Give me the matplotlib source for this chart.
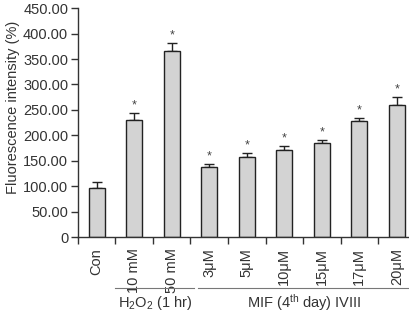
import numpy as np
import matplotlib
matplotlib.use("Agg")
import matplotlib.pyplot as plt

plt.rcParams['font.family'] = ['Liberation Sans', 'DejaVu Sans']
plt.rcParams['mathtext.fontset'] = 'custom'
plt.rcParams['mathtext.rm'] = 'Liberation Sans'
plt.rcParams['mathtext.default'] = 'regular'

# data
categories = ['Con', '10 mM', '50 mM', '3μM', '5μM', '10μM', '15μM', '17μM', '20μM']
values = [97, 230, 365, 137, 157, 171, 184, 228, 260]
errors = [11, 13, 17, 6, 9, 9, 6, 7, 16]
significant = [False, True, True, True, True, True, True, True, True]
yticks = [0, 50, 100, 150, 200, 250, 300, 350, 400, 450]
groups = [('H$_2$O$_2$ (1 hr)', 1, 2), ('MIF (4$^{th}$ day) IVIII', 3, 8)]

fig = plt.figure(figsize=(4.10, 3.12), dpi=100)
ax = fig.add_axes([0.19, 0.24, 0.81, 0.734])

x = np.arange(len(categories))
ax.bar(x, values, width=0.42, color='#d3d3d3', edgecolor='#222222', linewidth=1.0, zorder=2)
ax.errorbar(x, values, yerr=[np.zeros(len(errors)), errors], fmt='none',
            ecolor='#222222', elinewidth=1.0, capsize=3.5, capthick=1.0, zorder=1)
for xi, v, e, s in zip(x, values, errors, significant):
    if s:
        ax.text(xi, v + e + 3, '*', ha='center', va='bottom', fontsize=9, color='#444444')

ax.set_xlim(-0.5, 8.35)
ax.set_ylim(0, 450)
ax.set_yticks(yticks)
ax.set_yticklabels(['0'] + ['%.2f' % t for t in yticks[1:]], fontsize=10.5, color='#333333')
ax.set_xticks(np.arange(-0.5, 8.5, 1.0))
ax.set_xticklabels([])
ax.set_xticks(x, minor=True)
ax.set_xticklabels(categories, minor=True, rotation=90, fontsize=10.5, color='#333333')
ax.tick_params(axis='x', which='minor', length=0, pad=8)
ax.tick_params(axis='both', which='major', length=5, width=1.0, color='#333333')
ax.tick_params(axis='y', pad=2)
for side in ['top', 'right']:
    ax.spines[side].set_visible(False)
for side in ['left', 'bottom']:
    ax.spines[side].set_linewidth(1.0)
    ax.spines[side].set_color('#333333')
ax.set_ylabel('Fluorescence intensity (%)', fontsize=10.5, color='#333333')
ax.yaxis.set_label_coords(-0.175, 0.565)

# group annotations below the tick labels
for label, start, end in groups:
    if start == 1:
        x0 = ax.transData.transform((start - 0.5, 0))[0]
        x1 = ax.transData.transform((end + 0.6, 0))[0]
    else:
        x0 = ax.transData.transform((start - 0.3, 0))[0]
        x1 = ax.transData.transform((8.35, 0))[0]
    fx0, fx1 = x0 / fig.bbox.width, x1 / fig.bbox.width
    fig.add_artist(plt.Line2D([fx0, fx1], [0.077, 0.077], color='#777777', linewidth=0.8))
    fig.text((fx0 + fx1) / 2, 0.03, label, ha='center', va='center', fontsize=10.5, color='#333333')

fig.savefig('out.png', dpi=100)
